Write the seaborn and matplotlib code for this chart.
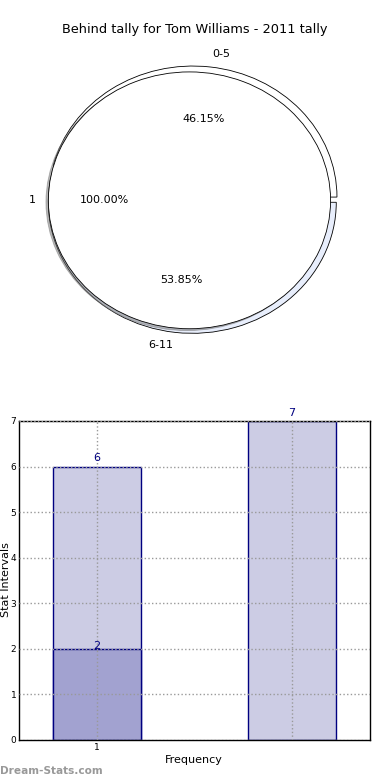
import matplotlib
matplotlib.use("Agg")
import matplotlib.pyplot as plt
import matplotlib.patches as mpatches
import pandas as pd
import seaborn as sns

# data
title = "Behind tally for Tom Williams - 2011 tally"
outer_labels = ["0-5", "6-11"]
outer_values = [6, 7]
inner_labels = ["1"]
inner_values = [13]

bar_cats = ["1", "2"]
bar_totals = [6, 7]
base_cats = ["1"]
base_values = [2]
xtick_labels = ["1", ""]

sns.set_style("white")
plt.rcParams["font.family"] = ["DejaVu Sans"]
plt.rcParams["text.color"] = "black"
plt.rcParams["xtick.color"] = "black"
plt.rcParams["ytick.color"] = "black"

fig = plt.figure(figsize=(3.9, 7.8), dpi=100)

# pie: outer ring with two exploded wedges, full inner pie on top
ax1 = fig.add_axes([0.028, 0.534, 0.923, 0.42])
ax1.pie(outer_values, labels=outer_labels, autopct="%.2f%%", explode=[0.02, 0.02],
        center=(0.012, 0), colors=["white", "#e8eefc"], startangle=0,
        labeldistance=1.1, pctdistance=0.6,
        wedgeprops=dict(edgecolor="black", linewidth=0.6), textprops=dict(fontsize=8))
inner, _, _ = ax1.pie(inner_values, labels=inner_labels, autopct="%.2f%%", radius=0.98,
                      center=(-0.01, -0.005), shadow={"ox": -0.012, "oy": -0.01, "shade": 0.55},
                      colors=["white"], startangle=0, labeldistance=1.09, pctdistance=0.6,
                      wedgeprops=dict(edgecolor="black", linewidth=0.6),
                      textprops=dict(fontsize=8))
# shadow of the inner pie goes over the outer ring
for p in ax1.patches:
    if isinstance(p, mpatches.Shadow):
        p.set_zorder(1.5)
for w in inner:
    w.set_zorder(2)
ax1.set_aspect("auto")
ax1.set_xlim(-1.25, 1.25)
ax1.set_ylim(-1.25, 1.25)
fig.text(0.5, 1 - 30 / 780, title, ha="center", va="center", fontsize=9.3)

# bars
ax2 = fig.add_axes([0.049, 0.0513, 0.9, 0.409])
df_tot = pd.DataFrame({"cat": bar_cats, "val": bar_totals})
df_base = pd.DataFrame({"cat": base_cats, "val": base_values})
sns.barplot(data=df_tot, x="cat", y="val", order=bar_cats, color="#cccce4",
            saturation=1, width=0.45, edgecolor="#000080", linewidth=1, ax=ax2)
sns.barplot(data=df_base, x="cat", y="val", order=bar_cats, color="#a2a2d0",
            saturation=1, width=0.45, edgecolor="#000080", linewidth=1, ax=ax2)

for i, v in enumerate(bar_totals):
    ax2.text(i, v + 0.07, str(v), ha="center", va="bottom", color="#000080", fontsize=8)
for i, v in enumerate(base_values):
    ax2.text(i, v + 0.06, str(v), ha="center", va="center", color="#000080", fontsize=8)

ax2.set_xlim(-0.4, 1.4)
ax2.set_ylim(0, 7)
ax2.set_yticks(range(8))
ax2.set_xticks([0, 1])
ax2.set_xticklabels(xtick_labels)
ax2.tick_params(axis="both", direction="in", length=4, labelsize=6.5, pad=2)
ax2.grid(True, linestyle=":", color="#999999", linewidth=1)
ax2.set_axisbelow(False)
for s in ax2.spines.values():
    s.set_visible(True)
    s.set_color("black")
    s.set_linewidth(1)
ax2.set_xlabel("")
ax2.set_ylabel("")
fig.text(194 / 390, 1 - 760 / 780, "Frequency", ha="center", va="center", fontsize=8)
fig.text(6 / 390, 1 - 580 / 780, "Stat Intervals", ha="center", va="center",
         rotation=90, fontsize=8)

fig.text(0.0, 1 - 771 / 780, "Dream-Stats.com", ha="left", va="center",
         color="#999999", fontsize=7.6, weight="bold")

fig.savefig("out.png", dpi=100)
